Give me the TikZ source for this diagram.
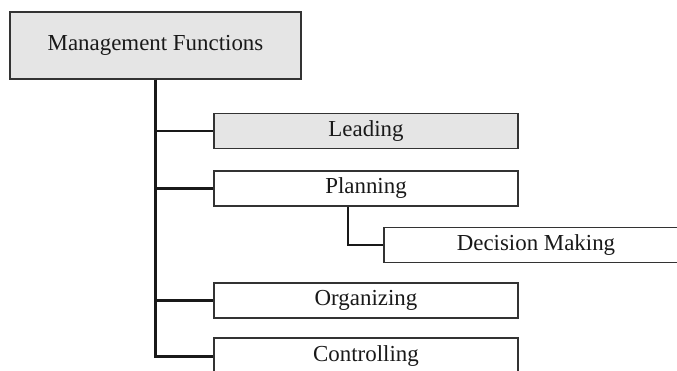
\documentclass[tikz,border=0pt]{standalone}
\usepackage{fontspec}
\setmainfont{Liberation Serif}
\begin{document}
\begin{tikzpicture}[x=1pt,y=-1pt,
  box/.style={draw=black!80, line width=1.1pt, rectangle, inner sep=0pt,
    minimum width=304pt, minimum height=35pt, font=\fontsize{22.9}{26}\selectfont,
    text=black!90},
  shaded/.style={fill=black!10},
  link/.style={draw=black!90, line width=2.2pt}]
  \useasboundingbox (0,0) rectangle (677,371);
  % root
  \node[box, shaded, minimum width=291pt, minimum height=67pt] (mgmt) at (155.5,45.5) {Management Functions};
  % functions
  \node[box, shaded] (leading)    at (366,131)   {Leading};
  \node[box]         (planning)   at (366,188.5) {Planning};
  \node[box]         (decision)   at (536,245)   {Decision Making};
  \node[box]         (organizing) at (366,300.5) {Organizing};
  \node[box, minimum height=37pt] (controlling) at (366,356.5) {Controlling};
  % connectors
  \draw[link] (mgmt.south) |- (leading.west);
  \draw[link] (mgmt.south) |- (planning.west);
  \draw[link] (mgmt.south) |- (organizing.west);
  \draw[link] (mgmt.south) |- (controlling.west);
  \draw[link] ([xshift=-18pt]planning.south) |- (decision.west);
\end{tikzpicture}
\end{document}
